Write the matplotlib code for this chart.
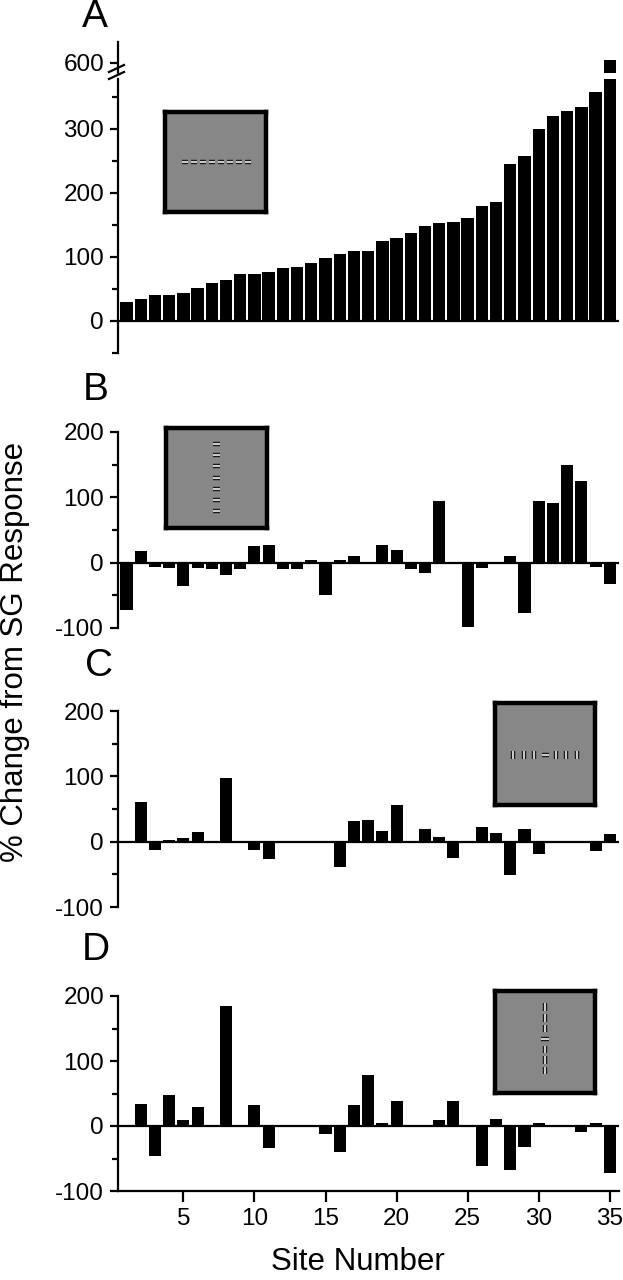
import matplotlib
matplotlib.use('Agg')
import matplotlib.pyplot as plt
from matplotlib.ticker import MultipleLocator
from matplotlib.lines import Line2D
import numpy as np

plt.rcParams['font.family'] = ['Liberation Sans', 'DejaVu Sans']
plt.rcParams['axes.unicode_minus'] = False

# ---- data ----
sites = np.arange(1, 36)

panel_a = [30, 34, 41, 41, 44, 52, 60, 64, 74, 74,
           77, 83, 85, 91, 98, 104, 110, 110, 125, 130,
           137, 149, 153, 155, 161, 180, 186, 245, 258, 300,
           320, 328, 334, 358, 605]

panel_b = [-73, 18, -6, -8, -36, -8, -10, -19, -10, 25,
           27, -10, -10, 4, -50, 4, 10, 0, 27, 20,
           -10, -16, 94, 0, -99, -8, 0, 10, -77, 94,
           92, 150, 125, -6, -32]

panel_c = [0, 60, -12, 2.5, 5, 15, 0, 98, 0, -12,
           -27, 0, 0, 0, 0, -39, 31, 33, 17, 56,
           0, 19, 7, -25, 0, 22, 13, -51, 20, -19,
           0, 0, 0, -14, 11]

panel_d = [0, 34, -46, 47, 9, 30, 0, 185, 0, 33,
           -34, 0, 0, 0, -13, -40, 33, 78, 5, 38,
           0, 0, 9, 38, 0, -61, 11, -68, -32, 4,
           0, 0, -9, 4, -73]

xticks = [5, 10, 15, 20, 25, 30, 35]

# ---- layout in pixels ----
W, H = 623, 1280
fig = plt.figure(figsize=(W / 100, H / 100), dpi=100)


def px_box(x0, y0, x1, y1):
    return [x0 / W, 1 - y1 / H, (x1 - x0) / W, (y1 - y0) / H]


AX_L, AX_R = 118, 619
LW = 1.6
XLIM = (0.4, 35.65)


def style_axis(ax, ylim):
    ax.set_xlim(*XLIM)
    ax.set_ylim(*ylim)
    for s in ['top', 'right', 'bottom']:
        ax.spines[s].set_visible(False)
    ax.spines['left'].set_linewidth(LW)
    ax.yaxis.set_major_locator(MultipleLocator(100))
    ax.yaxis.set_minor_locator(MultipleLocator(50))
    ax.tick_params(axis='y', which='major', length=6, width=LW,
                   labelsize=17.5, pad=4)
    ax.tick_params(axis='y', which='minor', length=4, width=LW)
    ax.tick_params(axis='x', bottom=False, labelbottom=False)
    ax.patch.set_alpha(0)


# panel A (broken axis)
ax_top = fig.add_axes(px_box(AX_L, 42, AX_R, 73))
ax_a = fig.add_axes(px_box(AX_L, 79, AX_R, 353))

ax_a.bar(sites, panel_a, width=0.87, color='black')
style_axis(ax_a, (-50, 378))
ax_a.axhline(0, color='black', lw=LW)
ax_a.set_yticks([0, 100, 200, 300])

ax_top.bar(sites, panel_a, width=0.87, color='black')
style_axis(ax_top, (584, 633))
ax_top.set_yticks([600])
ax_top.yaxis.set_minor_locator(MultipleLocator(1000))

# break marks on the y axis
for yb in (70, 77):
    fig.add_artist(Line2D([(AX_L - 9) / W, (AX_L + 6) / W],
                          [1 - (yb + 2) / H, 1 - (yb - 5) / H],
                          color='black', lw=LW))

# panels B-D
boxes = [(432, 628), (711, 907), (996, 1191)]
values = [panel_b, panel_c, panel_d]
axes = []
for (y0, y1), vals in zip(boxes, values):
    ax = fig.add_axes(px_box(AX_L, y0, AX_R, y1))
    ax.bar(sites, vals, width=0.85, color='black')
    style_axis(ax, (-100, 200))
    ax.axhline(0, color='black', lw=LW)
    axes.append(ax)

ax_d = axes[-1]
ax_d.spines['bottom'].set_visible(True)
ax_d.spines['bottom'].set_linewidth(LW)
ax_d.set_xticks(xticks)
ax_d.tick_params(axis='x', bottom=True, labelbottom=True, length=8,
                 width=LW, labelsize=17.5, pad=4)

# panel letters
for letter, (x, y) in zip('ABCD', [(95, 17), (96, 390), (99, 666), (96, 950)]):
    fig.text(x / W, 1 - y / H, letter, fontsize=28, ha='center', va='center')

fig.text(15 / W, 1 - 652 / H, '% Change from SG Response', rotation=90,
         fontsize=22.5, ha='center', va='center')
fig.text(358 / W, 1 - 1262 / H, 'Site Number', fontsize=22.5,
         ha='center', va='center')


# ---- stimulus insets ----
def gabor(ax, x, y, horizontal, size=0.07):
    if horizontal:
        xs, ys = [x - size / 2, x + size / 2], [y, y]
    else:
        xs, ys = [x, x], [y - size / 2, y + size / 2]
    ax.plot(xs, ys, color='#1a1a1a', lw=3.2, solid_capstyle='butt')
    ax.plot(xs, ys, color='white', lw=1.1, solid_capstyle='butt')


def inset(box):
    ax = fig.add_axes(px_box(*box))
    ax.set_facecolor('#878787')
    ax.set_xlim(0, 1)
    ax.set_ylim(0, 1)
    ax.set_xticks([])
    ax.set_yticks([])
    for s in ax.spines.values():
        s.set_linewidth(3.2)
        s.set_color('black')
    return ax


ins_a = inset((165, 112, 266, 212))
for x in np.linspace(0.2, 0.82, 8):
    gabor(ins_a, x, 0.5, True, 0.065)

ins_b = inset((166, 428, 267, 528))
for y in np.linspace(0.17, 0.84, 7):
    gabor(ins_b, 0.5, y, True, 0.075)

ins_c = inset((495, 703, 595, 805))
for i, x in enumerate(np.linspace(0.18, 0.82, 7)):
    gabor(ins_c, x, 0.49, i == 3, 0.07)

ins_d = inset((495, 991, 595, 1093))
for i, y in enumerate(np.linspace(0.84, 0.22, 7)):
    gabor(ins_d, 0.5, y, i == 3, 0.075)

fig.savefig('out.png', dpi=100)
